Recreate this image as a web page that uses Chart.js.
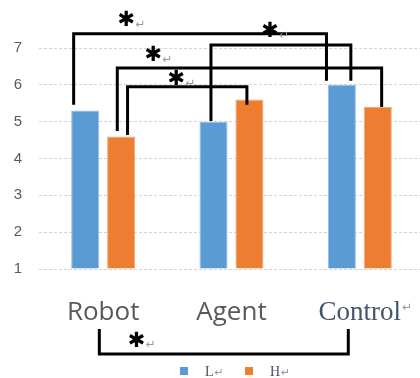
<!DOCTYPE html>
<html>
<head>
<meta charset="utf-8">
<script src="https://cdn.jsdelivr.net/npm/chart.js@4"></script>
<style>
  html, body { margin: 0; padding: 0; background: #fff; overflow: hidden; }
  #wrap { width: 420px; height: 378px; overflow: hidden; }
</style>
</head>
<body>
<div id="wrap"><canvas id="chart" width="426" height="378"></canvas></div>
<script>
const categories = ["Robot", "Agent", "Control"];
const seriesNames = ["L", "H"];
const lowValues = [5.3, 5.0, 6.0];
const highValues = [4.6, 5.6, 5.4];
const seriesColors = ["#5B9BD5", "#ED7D31"];
const yTicks = [1, 2, 3, 4, 5, 6, 7];

// significance brackets (x in category units, y in value units)
const brackets = [
  { left: [-0.23, 5.46], right: [1.74, 6.11], bar: 7.39, star: [0.18, 7.74] },
  { left: [0.84, 5.02], right: [1.93, 6.11], bar: 7.08, star: [1.30, 7.44] },
  { left: [0.11, 4.75], right: [2.17, 5.40], bar: 6.46, star: [0.39, 6.79] },
  { left: [0.19, 4.64], right: [1.12, 5.46], bar: 5.95, star: [0.57, 6.14] },
  { left: [-0.03, -0.63], right: [1.91, -0.63], bar: -1.31, star: [0.26, -0.96] }
];

const RET = "\u21B5";

const extras = {
  id: "extras",
  afterDraw(chart) {
    const { ctx, scales: { x, y } } = chart;
    const px = v => x.getPixelForValue(v);
    const py = v => y.getPixelForValue(v);
    ctx.save();

    // brackets
    ctx.strokeStyle = "#000";
    ctx.lineWidth = 3;
    ctx.lineJoin = "miter";
    brackets.forEach(b => {
      ctx.beginPath();
      ctx.moveTo(px(b.left[0]), py(b.left[1]));
      ctx.lineTo(px(b.left[0]), py(b.bar));
      ctx.lineTo(px(b.right[0]), py(b.bar));
      ctx.lineTo(px(b.right[0]), py(b.right[1]));
      ctx.stroke();
    });

    // stars
    brackets.forEach(b => {
      const sx = px(b.star[0]), sy = py(b.star[1]);
      ctx.fillStyle = "#000";
      ctx.font = '21px "DejaVu Sans"';
      ctx.textAlign = "center";
      ctx.textBaseline = "middle";
      ctx.fillText("\u2731", sx, sy);
      ctx.fillStyle = "#999";
      ctx.font = '12px "DejaVu Sans"';
      ctx.textAlign = "left";
      ctx.fillText(RET, sx + 9, sy + 4);
    });

    // return mark after last category label
    ctx.font = '27px "Liberation Serif"';
    const w = ctx.measureText(categories[2]).width;
    ctx.fillStyle = "#999";
    ctx.font = '12px "DejaVu Sans"';
    ctx.textAlign = "left";
    ctx.textBaseline = "middle";
    ctx.fillText(RET, px(2) + w / 2 + 1, 308);

    // legend
    seriesNames.forEach((name, i) => {
      const bx = 180 + 65 * i;
      ctx.fillStyle = seriesColors[i];
      ctx.fillRect(bx, 367, 8, 8);
      ctx.fillStyle = "#44546A";
      ctx.font = '14px "Liberation Serif"';
      ctx.textAlign = "left";
      ctx.textBaseline = "alphabetic";
      ctx.fillText(name, bx + 25, 376);
      const tw = ctx.measureText(name).width;
      ctx.fillStyle = "#999";
      ctx.font = '11px "DejaVu Sans"';
      ctx.fillText(RET, bx + 25 + tw + 1, 376);
    });
    ctx.restore();
  }
};

new Chart(document.getElementById("chart"), {
  type: "bar",
  data: {
    labels: categories,
    datasets: [
      { label: seriesNames[0], data: lowValues, backgroundColor: seriesColors[0], borderColor: "#8fbce6", borderWidth: 1, base: 1 },
      { label: seriesNames[1], data: highValues, backgroundColor: seriesColors[1], borderColor: "#f3a775", borderWidth: 1, base: 1 }
    ]
  },
  options: {
    responsive: false,
    animation: false,
    events: [],
    layout: { padding: { top: 48, left: 14, right: 2, bottom: 48 } },
    datasets: { bar: { categoryPercentage: 0.56, barPercentage: 0.78 } },
    plugins: { legend: { display: false }, tooltip: { enabled: false } },
    scales: {
      x: {
        grid: { display: false, drawTicks: false },
        border: { display: false },
        afterFit: axis => { axis.height = 61; axis.paddingLeft = 0; axis.paddingRight = 0; },
        ticks: {
          padding: 28,
          color: ctx => ctx.index === 2 ? "#44546A" : "#595959",
          font: ctx => ctx.index === 2
            ? { family: "Liberation Serif", size: 27 }
            : { family: "Open Sans", size: 26 }
        }
      },
      y: {
        min: 1,
        max: 7,
        afterBuildTicks: axis => { axis.ticks = yTicks.map(v => ({ value: v })); },
        afterFit: axis => { axis.width = 25; },
        grid: { color: "#d4d4d4", drawTicks: false },
        border: { display: false, dash: [3, 2] },
        ticks: { padding: 17, color: "#595959", font: { family: "Liberation Sans", size: 15 } }
      }
    }
  },
  plugins: [extras]
});
</script>
</body>
</html>
